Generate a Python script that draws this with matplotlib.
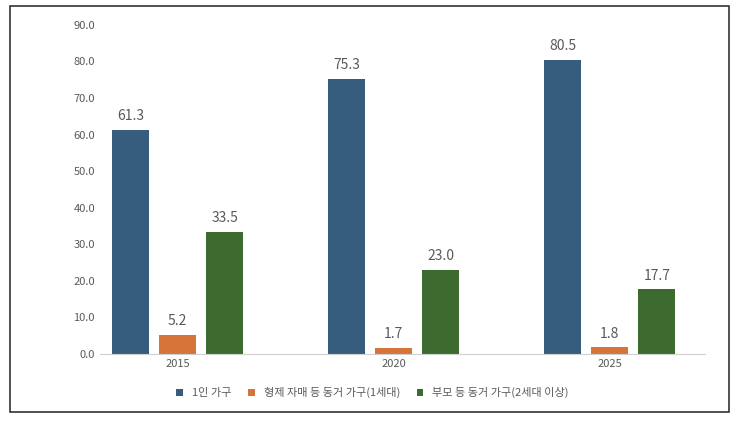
import matplotlib.pyplot as plt
import numpy as np
from matplotlib.patches import Rectangle

plt.rcParams['font.family'] = ['Noto Sans CJK KR', 'DejaVu Sans']

years = ['2015', '2020', '2025']
series_names = ['1인 가구', '형제 자매 등 동거 가구(1세대)', '부모 등 동거 가구(2세대 이상)']
single = [61.3, 75.3, 80.5]
siblings = [5.2, 1.7, 1.8]
parents = [33.5, 23.0, 17.7]
colors = ['#375d7e', '#d7743a', '#3d6b2f']

fig = plt.figure(figsize=(7.45, 4.22), dpi=100)
fig.patches.append(Rectangle((0.014, 0.024), 0.964, 0.962, transform=fig.transFigure,
                             fill=False, edgecolor='#333333', linewidth=1.2))
ax = fig.add_axes([0.134, 0.161, 0.812, 0.78])

x = np.arange(len(years))
w = 0.17
off = 0.218
for i, (vals, name) in enumerate(zip([single, siblings, parents], series_names)):
    pos = x + (i - 1) * off
    ax.bar(pos, vals, w, color=colors[i], label=name)
    for p, v in zip(pos, vals):
        ax.text(p, v + 1.8, f'{v:.1f}', ha='center', va='bottom', fontsize=10, color='#595959')

ax.set_xlim(-0.36, 2.44)
ax.set_ylim(0, 90)
ax.set_yticks(np.arange(0, 91, 10))
ax.set_yticklabels([f'{t:.1f}' for t in np.arange(0, 91, 10)], fontsize=8, color='#595959')
ax.set_xticks(x)
ax.set_xticklabels(years, fontsize=8, color='#595959')
ax.tick_params(length=0)
for s in ['top', 'right', 'left']:
    ax.spines[s].set_visible(False)
ax.spines['bottom'].set_color('#d0d0d0')

fig.legend(loc='center', bbox_to_anchor=(0.5, 0.07), ncol=3, frameon=False,
           fontsize=8, handlelength=0.6, handleheight=0.6, columnspacing=1.5,
           labelcolor='#595959')

fig.savefig('out.png', dpi=100)
